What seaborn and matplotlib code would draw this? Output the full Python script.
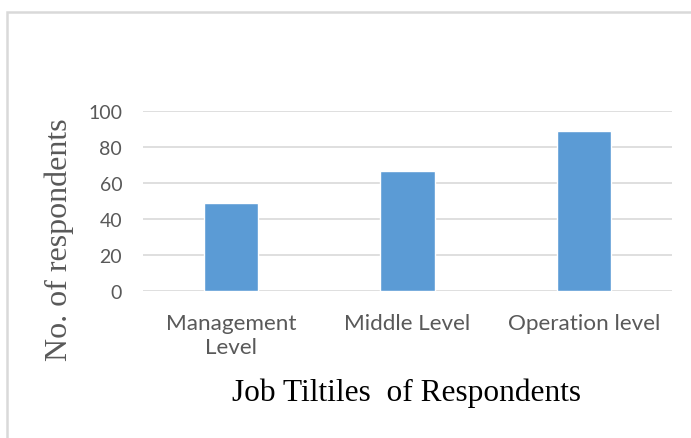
import matplotlib
matplotlib.use("Agg")
import matplotlib.pyplot as plt
import seaborn as sns
import pandas as pd
from matplotlib.patches import Rectangle

categories = ["Management\nLevel", "Middle Level", "Operation level"]
respondents = [49, 67, 89]
y_ticks = [0, 20, 40, 60, 80, 100]

sns.set_theme(style="white")
plt.rcParams["font.family"] = ["Lato", "DejaVu Sans"]

df = pd.DataFrame({"category": categories, "count": respondents})

W, H = 691, 439
fig = plt.figure(figsize=(W / 100, H / 100), dpi=100)
ax = fig.add_axes([143 / W, 1 - 292.3 / H, (672 - 143) / W, (292.3 - 112.3) / H])

sns.barplot(data=df, x="category", y="count", color="#5B9BD5", width=0.31,
            saturation=1, ax=ax, zorder=3)

ax.set_ylim(0, 100)
ax.set_yticks(y_ticks)
ax.set_xlim(-0.5, 2.5)
for v in y_ticks:
    ax.axhline(v, color="#D9D9D9", lw=1.2, zorder=1)
for s in ax.spines.values():
    s.set_visible(False)
ax.tick_params(axis="y", length=0, pad=15, labelsize=14, labelcolor="#595959")
ax.tick_params(axis="x", length=0, pad=15.5, labelsize=16.2, labelcolor="#595959")
for lbl in ax.get_xticklabels():
    lbl.set_linespacing(1.25)
ax.set_xlabel("")
ax.set_ylabel("")

fig.text(0.5 * (232 + 581) / W, 1 - 393 / H, "Job Tiltiles  of Respondents",
         family="Liberation Serif", fontsize=22.6, color="black",
         ha="center", va="center")
fig.text(59 / W, 1 - 240 / H, "No. of respondents", family="Liberation Serif",
         fontsize=23, color="#595959", rotation=90, ha="center", va="center")

# chart frame
fig.patches.append(Rectangle((7 / W, -0.05), 1.0, 1 - 13 / H + 0.05,
                             transform=fig.transFigure, fill=False,
                             edgecolor="#D9D9D9", lw=1.8))

fig.savefig("out.png", dpi=100, facecolor="white")
